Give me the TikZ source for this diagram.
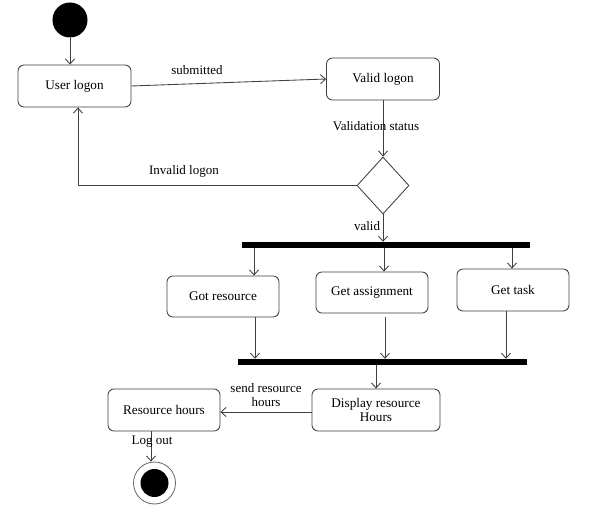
\documentclass[tikz,border=0pt]{standalone}
\usepackage{fontspec}
\setmainfont{Liberation Serif}
\usetikzlibrary{arrows.meta,shapes.geometric,calc}
\begin{document}
\begin{tikzpicture}[x=1pt,y=-1pt,
  lc/.style={draw=black!75, line width=0.85pt},
  box/.style={lc, rectangle, rounded corners=6pt, minimum width=113pt, minimum height=42pt, inner sep=0pt, align=center, font=\fontsize{13.2}{14}\selectfont},
  bar/.style={rectangle, fill=black, inner sep=0pt, minimum height=6pt},
  arr/.style={lc, -{Straight Barb[length=5pt,width=9pt]}},
  lbl/.style={font=\fontsize{13}{13.5}\selectfont, inner sep=1pt, align=center}
]
\useasboundingbox[fill=white] (0,0) rectangle (590,511);

% initial
\node[circle, fill=black, minimum size=35pt, inner sep=0pt] (init) at (70,20) {};

% boxes
\node[box] (ulog) at (74.5,86) {User logon};
\node[box] (vlog) at (383,79) {Valid logon};
\node[lc, diamond, minimum width=52pt, minimum height=57pt, inner sep=0pt] (dec) at (383,185.5) {};
\node[bar, minimum width=288pt] (fork) at (386,245) {};
\node[box, minimum width=112pt, minimum height=41pt] (gres) at (223,296.5) {Got resource};
\node[box, minimum width=112pt, minimum height=41pt] (gass) at (372,292.5) {Get assignment};
\node[box, minimum width=112pt, minimum height=42pt] (gtask) at (513,290) {Get task};
\node[bar, minimum width=289pt] (join) at (382.5,362) {};
\node[box, minimum width=128pt] (disp) at (376,410) {Display resource\\Hours};
\node[box, minimum width=112pt] (rhrs) at (164,410) {Resource hours};

% final
\node[circle, draw=black!60, line width=0.8pt, minimum size=42pt, inner sep=0pt] (fin) at (154.5,483) {};
\node[circle, fill=black, minimum size=28pt, inner sep=0pt] (finin) at (fin.center) {};

% helper x positions
\coordinate (xa) at (254,0);
\coordinate (xb) at (384,0);
\coordinate (xc) at (512,0);
\coordinate (xd) at (255,0);
\coordinate (xe) at (385,0);
\coordinate (xf) at (506,0);
\coordinate (xl) at (78,0);
\coordinate (xo) at (151,0);

% connectors
\draw[arr] (init.south) -- (init.south |- ulog.north);
\draw[arr] (ulog.east) -- (vlog.west);
\node[lbl] at (197,70) {submitted};
\draw[arr] (vlog.south) -- (dec.north);
\node[lbl] at (376,126) {Validation status};
\draw[arr] (dec.west) -| (ulog.south -| xl);
\node[lbl] at (184,171) {Invalid logon};
\draw[arr] (dec.south) -- (dec.south |- fork.north);
\node[lbl] at (367,226) {valid};

\draw[arr] (fork.south -| xa) -- (gres.north -| xa);
\draw[arr] (fork.south -| xb) -- (gass.north -| xb);
\draw[arr] (fork.south -| xc) -- (gtask.north -| xc);

\draw[arr] (gres.south -| xd) -- (join.north -| xd);
\draw[arr] ($(gass.south -| xe)+(0,4)$) -- (join.north -| xe);
\draw[arr] (gtask.south -| xf) -- (join.north -| xf);

\draw[arr] (join.south -| disp.north) -- (disp.north);
\draw[arr] ($(disp.west)+(0,2)$) -- ($(rhrs.east)+(0,2)$);
\node[lbl] at (266,395) {send resource\\hours};
\draw[arr] (rhrs.south -| xo) -- (fin.north -| xo);
\node[lbl] at (152,442) {Log out};
\end{tikzpicture}
\end{document}
